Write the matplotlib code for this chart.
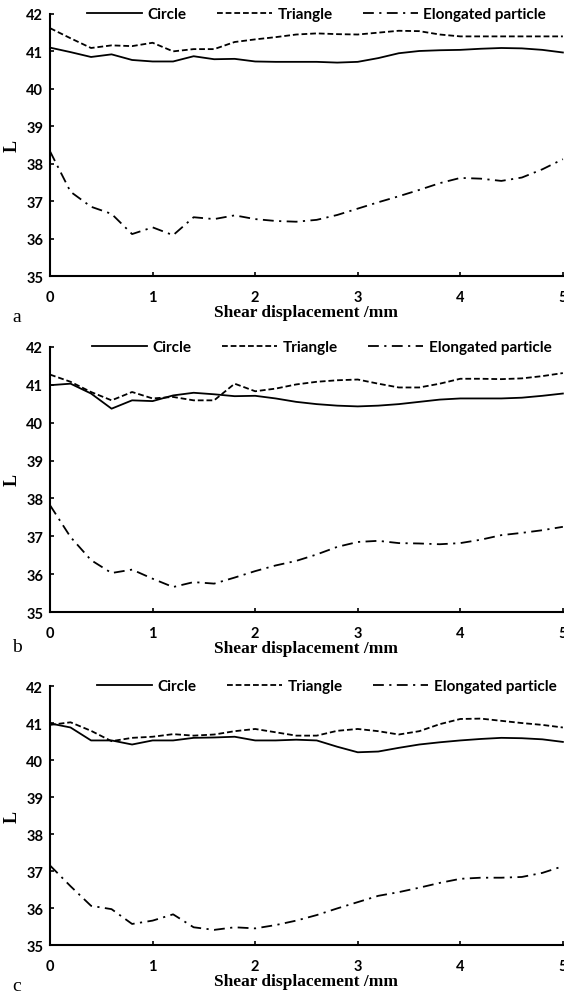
import numpy as np
import matplotlib.pyplot as plt

# shear displacement (mm), sampled every 0.2 mm
disp = np.round(np.arange(0, 5.01, 0.2), 1)

# panel a
circle_a = [41.10, 40.98, 40.85, 40.92, 40.77, 40.73, 40.73, 40.87, 40.79, 40.80,
            40.73, 40.72, 40.72, 40.72, 40.70, 40.72, 40.82, 40.95, 41.01, 41.03,
            41.04, 41.07, 41.09, 41.08, 41.04, 40.97]
triangle_a = [41.62, 41.35, 41.09, 41.16, 41.14, 41.23, 41.00, 41.06, 41.06, 41.25,
              41.32, 41.38, 41.45, 41.48, 41.46, 41.45, 41.50, 41.55, 41.54, 41.45,
              41.40, 41.40, 41.40, 41.40, 41.40, 41.40]
elong_a = [38.33, 37.25, 36.85, 36.66, 36.12, 36.30, 36.09, 36.57, 36.52, 36.62,
           36.52, 36.47, 36.45, 36.50, 36.63, 36.80, 36.97, 37.13, 37.30, 37.48,
           37.62, 37.60, 37.54, 37.63, 37.85, 38.12]

# panel b
circle_b = [40.99, 41.03, 40.77, 40.37, 40.59, 40.57, 40.72, 40.79, 40.75, 40.70,
            40.71, 40.64, 40.55, 40.49, 40.45, 40.43, 40.45, 40.49, 40.55, 40.61,
            40.64, 40.64, 40.64, 40.66, 40.71, 40.77]
triangle_b = [41.27, 41.08, 40.81, 40.59, 40.81, 40.64, 40.68, 40.59, 40.59, 41.03,
              40.83, 40.90, 41.01, 41.08, 41.12, 41.14, 41.03, 40.93, 40.93, 41.03,
              41.16, 41.16, 41.15, 41.17, 41.23, 41.31]
elong_b = [37.82, 36.98, 36.37, 36.03, 36.12, 35.88, 35.66, 35.79, 35.75, 35.91,
           36.08, 36.23, 36.35, 36.52, 36.72, 36.85, 36.88, 36.82, 36.81, 36.79,
           36.82, 36.91, 37.03, 37.09, 37.16, 37.25]

# panel c
circle_c = [40.99, 40.88, 40.53, 40.53, 40.42, 40.53, 40.53, 40.60, 40.61, 40.63,
            40.53, 40.53, 40.55, 40.53, 40.36, 40.21, 40.23, 40.33, 40.42, 40.48,
            40.53, 40.57, 40.60, 40.59, 40.56, 40.49]
triangle_c = [40.95, 41.02, 40.79, 40.51, 40.60, 40.63, 40.70, 40.66, 40.69, 40.78,
              40.84, 40.75, 40.66, 40.66, 40.79, 40.84, 40.78, 40.69, 40.78, 40.97,
              41.11, 41.12, 41.06, 41.00, 40.95, 40.88]
elong_c = [37.15, 36.59, 36.06, 35.97, 35.57, 35.66, 35.83, 35.48, 35.41, 35.48,
           35.45, 35.54, 35.66, 35.81, 35.99, 36.16, 36.33, 36.43, 36.55, 36.68,
           36.79, 36.82, 36.82, 36.84, 36.95, 37.13]

panel_letters = ['a', 'b', 'c']
series_names = ['Circle', 'Triangle', 'Elongated particle']
x_ticks = [0, 1, 2, 3, 4, 5]
y_ticks = [35, 36, 37, 38, 39, 40, 41, 42]

panels = [
    (circle_a, triangle_a, elong_a),
    (circle_b, triangle_b, elong_b),
    (circle_c, triangle_c, elong_c),
]

# axes boxes in figure fractions [left, bottom, width, height]
boxes = [
    [0.0887, 0.7216, 0.9093, 0.2634],
    [0.0887, 0.3839, 0.9093, 0.2664],
    [0.0887, 0.0492, 0.9093, 0.2603],
]
legend_x = [0.52, 0.53, 0.54]
letter_y = [318, 648, 987]

line_styles = [
    dict(linestyle='-'),
    dict(linestyle=(0, (3.2, 1.6))),
    dict(linestyle=(0, (6, 3, 1.2, 3))),
]

tick_font = dict(family='Lato', weight='bold', size=10.5)
legend_font = dict(family='Lato', weight='bold', size=11)
serif = 'Liberation Serif'

fig = plt.figure(figsize=(5.64, 9.95), dpi=100)

for i, data in enumerate(panels):
    ax = fig.add_axes(boxes[i])
    for name, values, style in zip(series_names, data, line_styles):
        ax.plot(disp, values, color='black', lw=1.3, label=name, clip_on=False, **style)

    ax.set_xlim(0, 5)
    ax.set_ylim(35, 42)
    ax.set_xticks(x_ticks)
    ax.set_yticks(y_ticks)
    ax.tick_params(direction='in', length=3, width=1.2, color='black')
    ax.tick_params(axis='x', pad=10)
    ax.tick_params(axis='y', pad=5)
    for lbl in ax.get_xticklabels() + ax.get_yticklabels():
        lbl.set_fontproperties(tick_font)

    for side in ['top', 'right']:
        ax.spines[side].set_visible(False)
    for side in ['left', 'bottom']:
        ax.spines[side].set_linewidth(1.5)

    ax.set_xlabel('Shear displacement /mm', fontfamily=serif, fontweight='bold',
                  fontsize=12.5, labelpad=0)
    ax.set_ylabel('L', fontfamily=serif, fontweight='bold', fontsize=13, labelpad=4)

    ax.legend(loc='center', bbox_to_anchor=(legend_x[i], 1.0), ncol=3, frameon=False,
              prop=legend_font, handlelength=3.6, handletextpad=0.35, columnspacing=2.0,
              borderaxespad=0)

    fig.text(17 / 564, 1 - letter_y[i] / 995, panel_letters[i], fontfamily=serif,
             fontsize=14, ha='center', va='center')

fig.savefig('out.png', dpi=100)
